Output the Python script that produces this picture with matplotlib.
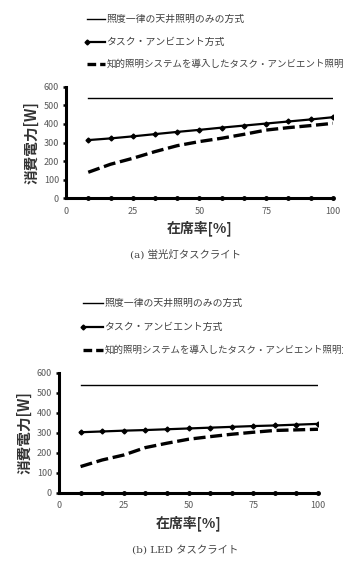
import matplotlib.pyplot as plt
import numpy as np
from matplotlib.lines import Line2D

plt.rcParams['font.family'] = ['Noto Sans CJK JP', 'DejaVu Sans']

# occupancy [%]
occupancy = [8.33, 16.67, 25, 33.33, 41.67, 50, 58.33, 66.67, 75, 83.33, 91.67, 100]

# fluorescent task light
a_uniform = [540] * 12
a_task = [313, 322, 333, 345, 357, 368, 380, 391, 402, 413, 424, 436]
a_smart = [140, 183, 215, 251, 283, 305, 323, 344, 367, 380, 391, 403]

# LED task light
b_uniform = [540] * 12
b_task = [303, 307, 311, 314, 318, 322, 326, 330, 334, 337, 341, 345]
b_smart = [131, 164, 189, 226, 248, 268, 281, 293, 303, 312, 315, 318]

legend_labels = ['照度一律の天井照明のみの方式',
                 'タスク・アンビエント方式',
                 '知的照明システムを導入したタスク・アンビエント照明方式']
legend_sizes = [7.1, 7.1, 6.8]
xticks = [0, 25, 50, 75, 100]
yticks = [0, 100, 200, 300, 400, 500, 600]

W, H = 343.0, 580.0
fig = plt.figure(figsize=(W / 100, H / 100), dpi=100)

grey = '#595959'
DASH = (3.6, 1.4)


def px(x0, y0, x1, y1):
    return [x0 / W, 1 - y1 / H, (x1 - x0) / W, (y1 - y0) / H]


def legend(lx0, lx1, ys):
    styles = [dict(color='black', lw=1.0),
              dict(color='black', lw=1.6, marker='D', markersize=2.5, markevery=[0]),
              dict(color='black', lw=2.4, dashes=(2.6, 1.2))]
    for y, st, lab, fs in zip(ys, styles, legend_labels, legend_sizes):
        fig.add_artist(Line2D([lx0 / W, lx1 / W], [1 - y / H, 1 - y / H],
                              transform=fig.transFigure, **st))
        fig.text((lx1 + 1.5) / W, 1 - y / H, lab, fontsize=fs, color='#404040',
                 va='center', ha='left')


def panel(rect, uniform, task, smart, xlab_y, cap_y, cap):
    ax = fig.add_axes(px(*rect))
    ax.plot(occupancy, uniform, color='black', lw=1.0)
    ax.plot(occupancy, task, color='black', lw=1.6, marker='D', markersize=2.5)
    ax.plot(occupancy, smart, color='black', lw=2.4, dashes=DASH)
    ax.plot(occupancy, [0] * len(occupancy), ls='none', marker='o',
            markersize=2.5, color='black', clip_on=False)
    ax.set_xlim(0, 100)
    ax.set_ylim(0, 600)
    ax.set_xticks(xticks)
    ax.set_yticks(yticks)
    for s in ['top', 'right']:
        ax.spines[s].set_visible(False)
    for s in ['left', 'bottom']:
        ax.spines[s].set_linewidth(2.2)
    ax.tick_params(axis='y', direction='out', length=2, width=1.8,
                   labelsize=6.5, labelcolor=grey, pad=3)
    ax.tick_params(axis='x', length=0, labelsize=6.5, labelcolor=grey, pad=6)
    ax.set_ylabel('消費電力[W]', fontsize=10.5, fontweight='bold',
                  color='#333333', labelpad=3)
    cx = (rect[0] + rect[2]) / 2 / W
    fig.text(cx, 1 - xlab_y / H, '在席率[%]', fontsize=10, fontweight='bold',
             color='#333333', ha='center', va='center')
    fig.text(185 / W, 1 - cap_y / H, cap, fontsize=7.5,
             family=['DejaVu Serif', 'Noto Sans CJK JP'], color='#444444',
             ha='center', va='center')
    return ax


legend(87, 105, [19, 42, 64])
panel((66, 86.7, 333, 198.3), a_uniform, a_task, a_smart, 228, 254,
      '(a) 蛍光灯タスクライト')

legend(83, 103, [303, 327, 350])
panel((59, 373, 318, 492.7), b_uniform, b_task, b_smart, 523, 550,
      '(b) LED タスクライト')

fig.text(43 / W, 1 - 587 / H, '図 4  比較した照明方式の概念図', fontsize=8,
         color='#444444', ha='left', va='center')

plt.savefig('out.png', dpi=100)
